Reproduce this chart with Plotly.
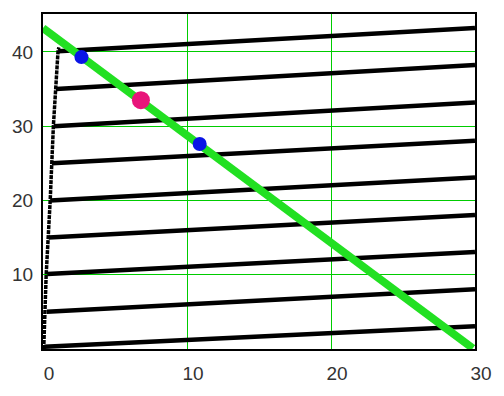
import plotly.graph_objects as go

# Family of near-horizontal black lines: start (x, y) and end (x, y)
line_x_start = [0.1, 0.27, 0.3, 0.4, 0.5, 0.62, 0.75, 0.9, 1.05]
line_y_start = [0.3, 5.0, 10.1, 15.0, 20.0, 25.0, 30.0, 35.0, 40.1]
line_x_end = [30, 30, 30, 30, 30, 30, 30, 30, 30]
line_y_end = [3.05, 8.05, 13.05, 18.05, 23.1, 28.05, 33.2, 38.25, 43.2]

# Dotted curve near the y axis
curve_x = [0.05, 0.22, 0.5, 0.72, 1.04, 1.1]
curve_y = [0.0, 10.0, 20.0, 30.0, 40.0, 40.6]

# Thick green straight line
green_x = [0, 29.85]
green_y = [43.2, 0.1]

# Points
blue_x = [2.67, 10.88]
blue_y = [39.3, 27.6]
pink_x = [6.8]
pink_y = [33.5]

x_ticks = [0, 10, 20, 30]
y_ticks = [10, 20, 30, 40]

fig = go.Figure()

for xs, ys, xe, ye in zip(line_x_start, line_y_start, line_x_end, line_y_end):
    fig.add_trace(go.Scatter(x=[xs, xe], y=[ys, ye], mode="lines",
                             line=dict(color="black", width=4.5),
                             showlegend=False, hoverinfo="skip"))

fig.add_trace(go.Scatter(x=curve_x, y=curve_y, mode="lines",
                         line=dict(color="black", width=3.5, dash="4px,1px"),
                         showlegend=False))

fig.add_trace(go.Scatter(x=green_x, y=green_y, mode="lines",
                         line=dict(color="#22e022", width=8),
                         showlegend=False))

fig.add_trace(go.Scatter(x=blue_x, y=blue_y, mode="markers",
                         marker=dict(color="#0a14e6", size=14),
                         showlegend=False))
fig.add_trace(go.Scatter(x=pink_x, y=pink_y, mode="markers",
                         marker=dict(color="#e8147a", size=18),
                         showlegend=False))

font = dict(family="Liberation Sans", size=19, color="#333333")

grid_green = "#00cc00"
fig.update_xaxes(range=[0, 30], tickvals=x_ticks, showgrid=True,
                 gridcolor=grid_green, gridwidth=1.3, zeroline=False,
                 showline=True, linecolor="black", linewidth=1.5, mirror=True,
                 ticks="", tickfont=font, ticklabelshift=6, ticklabelstandoff=6)
fig.update_yaxes(range=[0, 45.1], tickvals=y_ticks, showgrid=True,
                 gridcolor=grid_green, gridwidth=1.3, zeroline=False,
                 showline=True, linecolor="black", linewidth=2, mirror=True,
                 ticks="", tickfont=font, ticklabelstandoff=4)

fig.update_layout(width=504, height=396,
                  margin=dict(l=43, r=21, t=12, b=38),
                  paper_bgcolor="white", plot_bgcolor="white")

fig.write_html("out.html")
